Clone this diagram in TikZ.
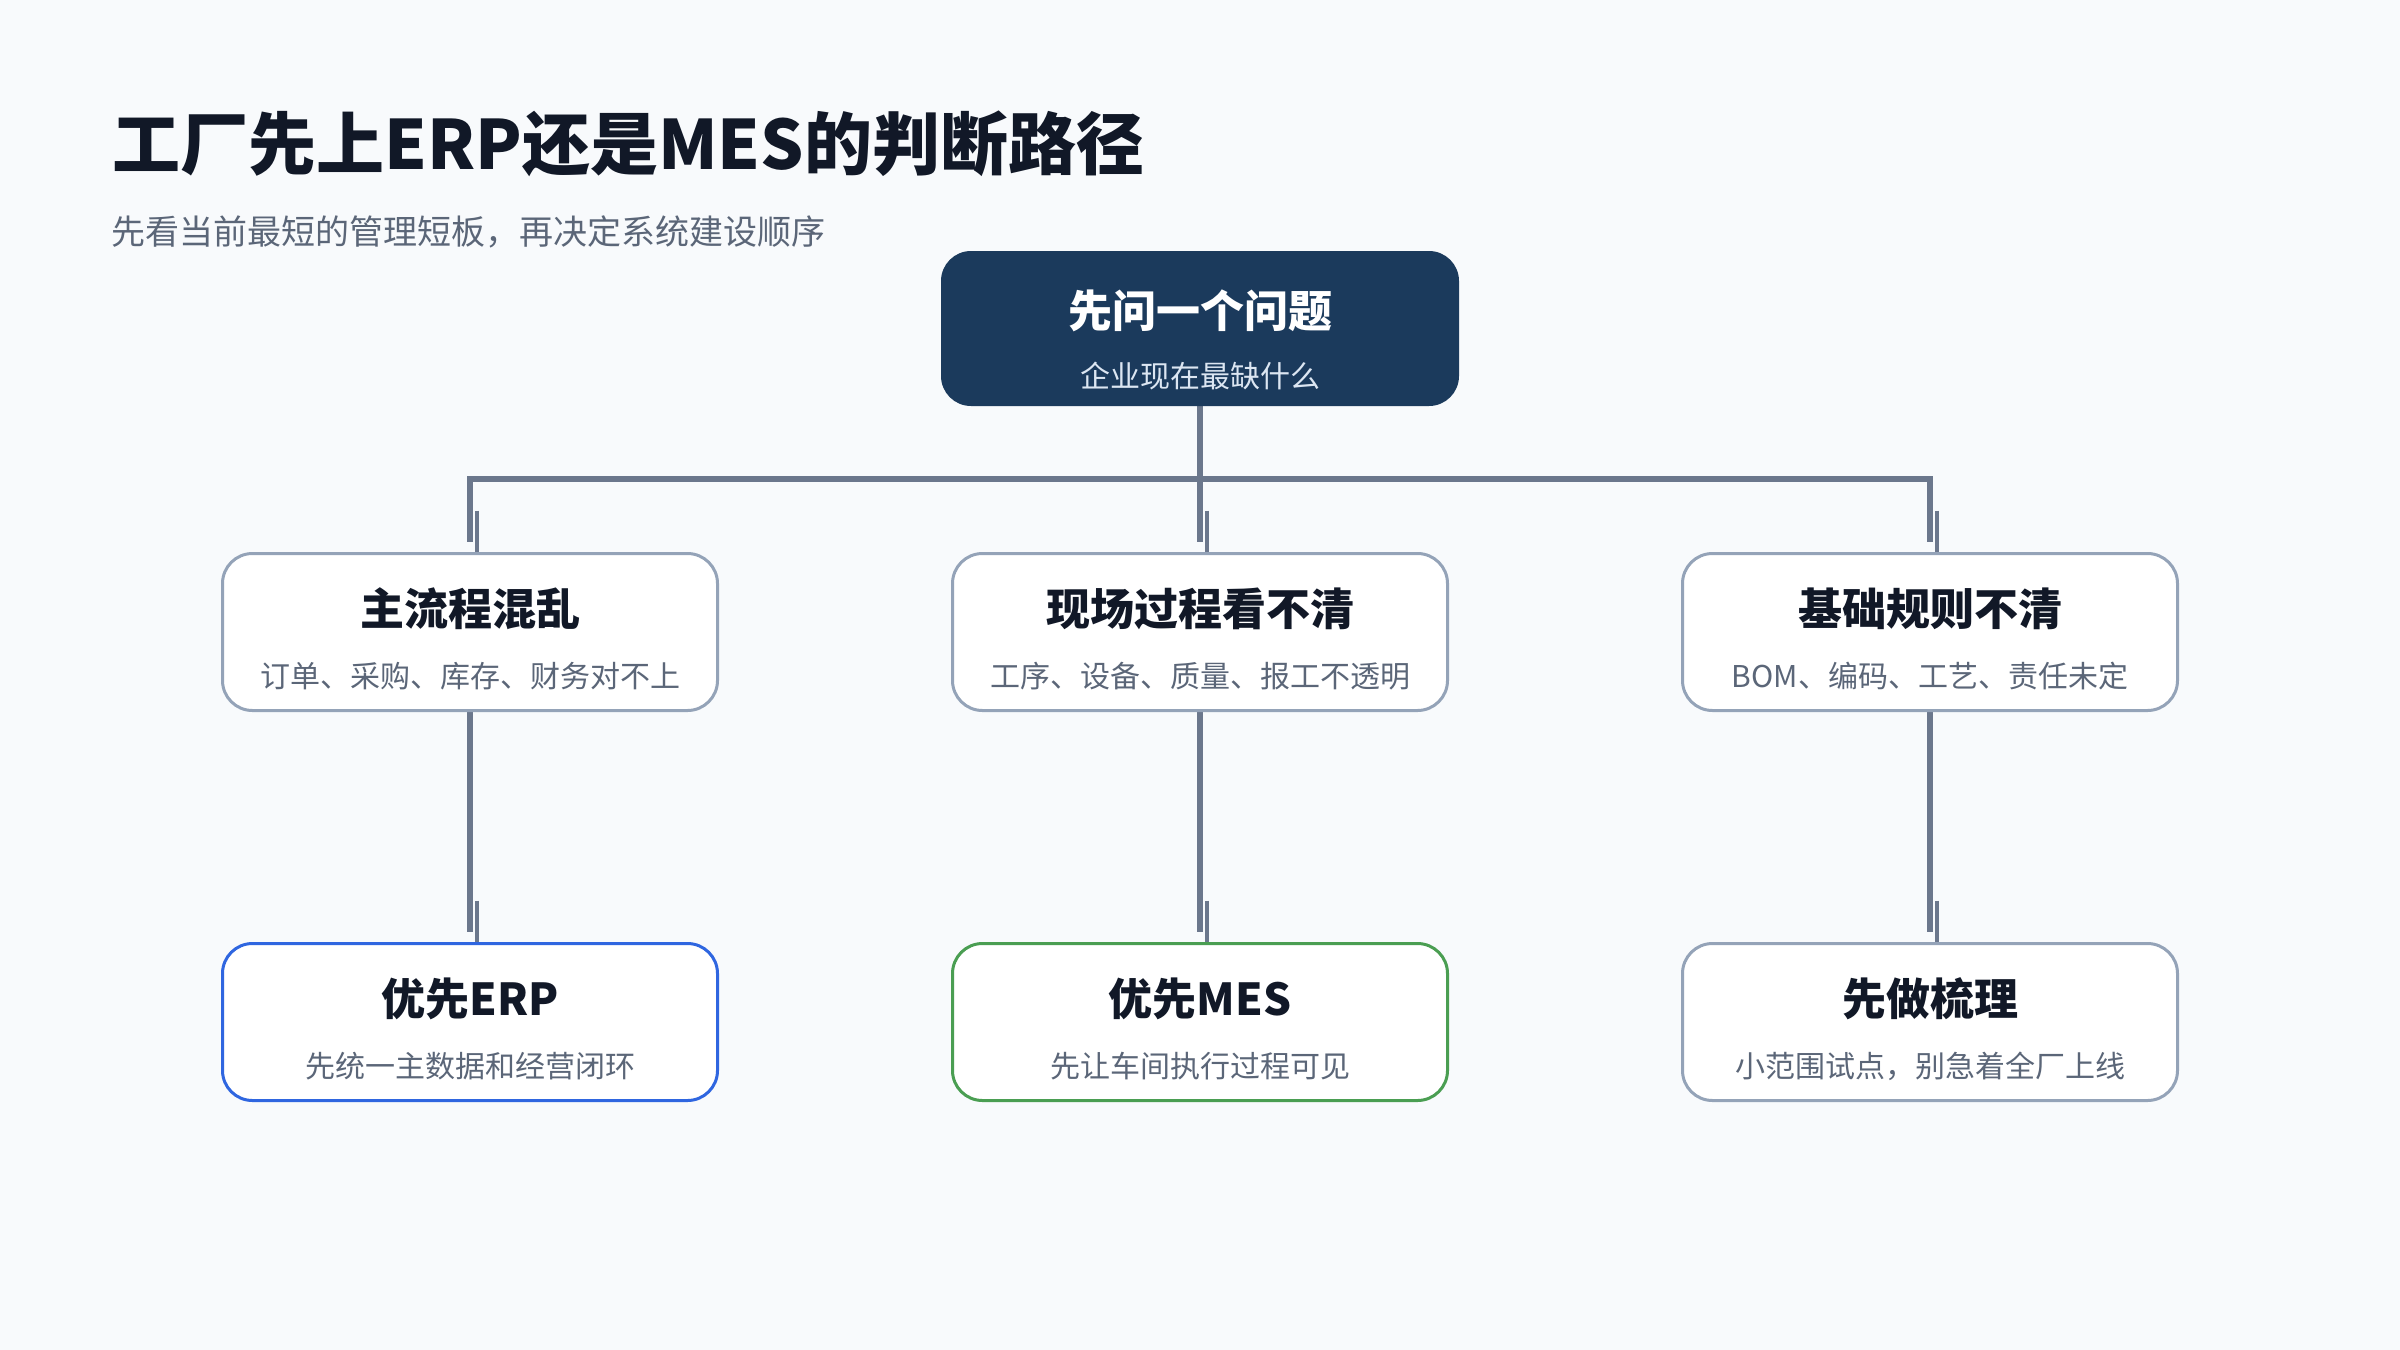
\documentclass[tikz,border=0pt]{standalone}
\usepackage{fontspec}
\setmainfont{Noto Sans CJK SC}
\usetikzlibrary{calc}
\pgfdeclarelayer{back}
\pgfdeclarelayer{wires}
\pgfsetlayers{back,wires,main}
\definecolor{bgc}{HTML}{F8FAFC}
\definecolor{ink}{HTML}{111827}
\definecolor{subgray}{HTML}{5B6678}
\definecolor{navy}{HTML}{1B3A5C}
\definecolor{rootsub}{HTML}{DCE6F2}
\definecolor{bordergray}{HTML}{94A3B8}
\definecolor{conn}{HTML}{6B778C}
\definecolor{erpblue}{HTML}{2F66E0}
\definecolor{mesgreen}{HTML}{4A9E52}
\begin{document}
\begin{tikzpicture}[x=0.5pt,y=-0.5pt,
  card/.style={draw=bordergray, line width=1.5pt, fill=white, rounded corners=15pt,
    minimum width=247.5pt, minimum height=78.5pt, inner sep=0pt},
  rootcard/.style={fill=navy, rounded corners=15pt, minimum width=259pt,
    minimum height=77.5pt, inner sep=0pt},
  ttl/.style={anchor=base, inner sep=0pt, font=\fontsize{22pt}{26pt}\selectfont\bfseries, text=ink},
  subt/.style={anchor=base, inner sep=0pt, font=\fontsize{15pt}{18pt}\selectfont, text=subgray},
  link/.style={draw=conn, line width=3pt},
  tipseg/.style={draw=conn, line width=2pt},
]
\begin{pgfonlayer}{back}
\fill[bgc] (0,0) rectangle (2400,1350);
\end{pgfonlayer}
\useasboundingbox (0,0) rectangle (2400,1350);

% heading
\node[anchor=base west, inner sep=0pt, font=\fontsize{34pt}{40pt}\selectfont\bfseries, text=ink]
  (title) at (112,169) {工厂先上ERP还是MES的判断路径};
\node[anchor=base west, inner sep=0pt, font=\fontsize{17pt}{21pt}\selectfont, text=subgray]
  (subtitle) at (111,244) {先看当前最短的管理短板，再决定系统建设顺序};

% root
\node[rootcard] (root) at (1200,328.5) {};
\node[ttl, text=white] (roott) at ([yshift=-38.2pt]root.north) {先问一个问题};
\node[subt, text=rootsub] (roots) at ([yshift=-68.5pt]root.north) {企业现在最缺什么};

% middle row
\node[card] (m1) at (470,632) {};
\node[card] (m2) at (1200,632) {};
\node[card] (m3) at (1930,632) {};
\node[ttl] (m1t) at ([yshift=-36.5pt]m1.north) {主流程混乱};
\node[subt] (m1s) at ([yshift=-67.6pt]m1.north) {订单、采购、库存、财务对不上};
\node[ttl] (m2t) at ([yshift=-36.5pt]m2.north) {现场过程看不清};
\node[subt] (m2s) at ([yshift=-67.6pt]m2.north) {工序、设备、质量、报工不透明};
\node[ttl] (m3t) at ([yshift=-36.5pt]m3.north) {基础规则不清};
\node[subt] (m3s) at ([yshift=-67.6pt]m3.north) {BOM、编码、工艺、责任未定};

% bottom row
\node[card, draw=erpblue] (b1) at (470,1022) {};
\node[card, draw=mesgreen] (b2) at (1200,1022) {};
\node[card] (b3) at (1930,1022) {};
\node[ttl] (b1t) at ([yshift=-36.5pt]b1.north) {优先ERP};
\node[subt] (b1s) at ([yshift=-67.6pt]b1.north) {先统一主数据和经营闭环};
\node[ttl] (b2t) at ([yshift=-36.5pt]b2.north) {优先MES};
\node[subt] (b2s) at ([yshift=-67.6pt]b2.north) {先让车间执行过程可见};
\node[ttl] (b3t) at ([yshift=-36.5pt]b3.north) {先做梳理};
\node[subt] (b3s) at ([yshift=-67.6pt]b3.north) {小范围试点，别急着全厂上线};

\coordinate (bus) at (1200,479);

\begin{pgfonlayer}{wires}
% root to middle row
\draw[link] (root.south) -- ([yshift=5.25pt]m2.north);
\draw[link] ([yshift=5.25pt]m1.north) |- (bus) -| ([yshift=5.25pt]m3.north);
\foreach \n in {m1,m2,m3}{
  \draw[tipseg] ([xshift=3.5pt,yshift=20.75pt]\n.north) -- ([xshift=3.5pt]\n.north);
}
% middle to bottom row
\draw[link] (m1.south) -- ([yshift=5.25pt]b1.north);
\draw[link] (m2.south) -- ([yshift=5.25pt]b2.north);
\draw[link] (m3.south) -- ([yshift=5.25pt]b3.north);
\foreach \n in {b1,b2,b3}{
  \draw[tipseg] ([xshift=3.5pt,yshift=20.75pt]\n.north) -- ([xshift=3.5pt]\n.north);
}
\end{pgfonlayer}
\end{tikzpicture}
\end{document}
